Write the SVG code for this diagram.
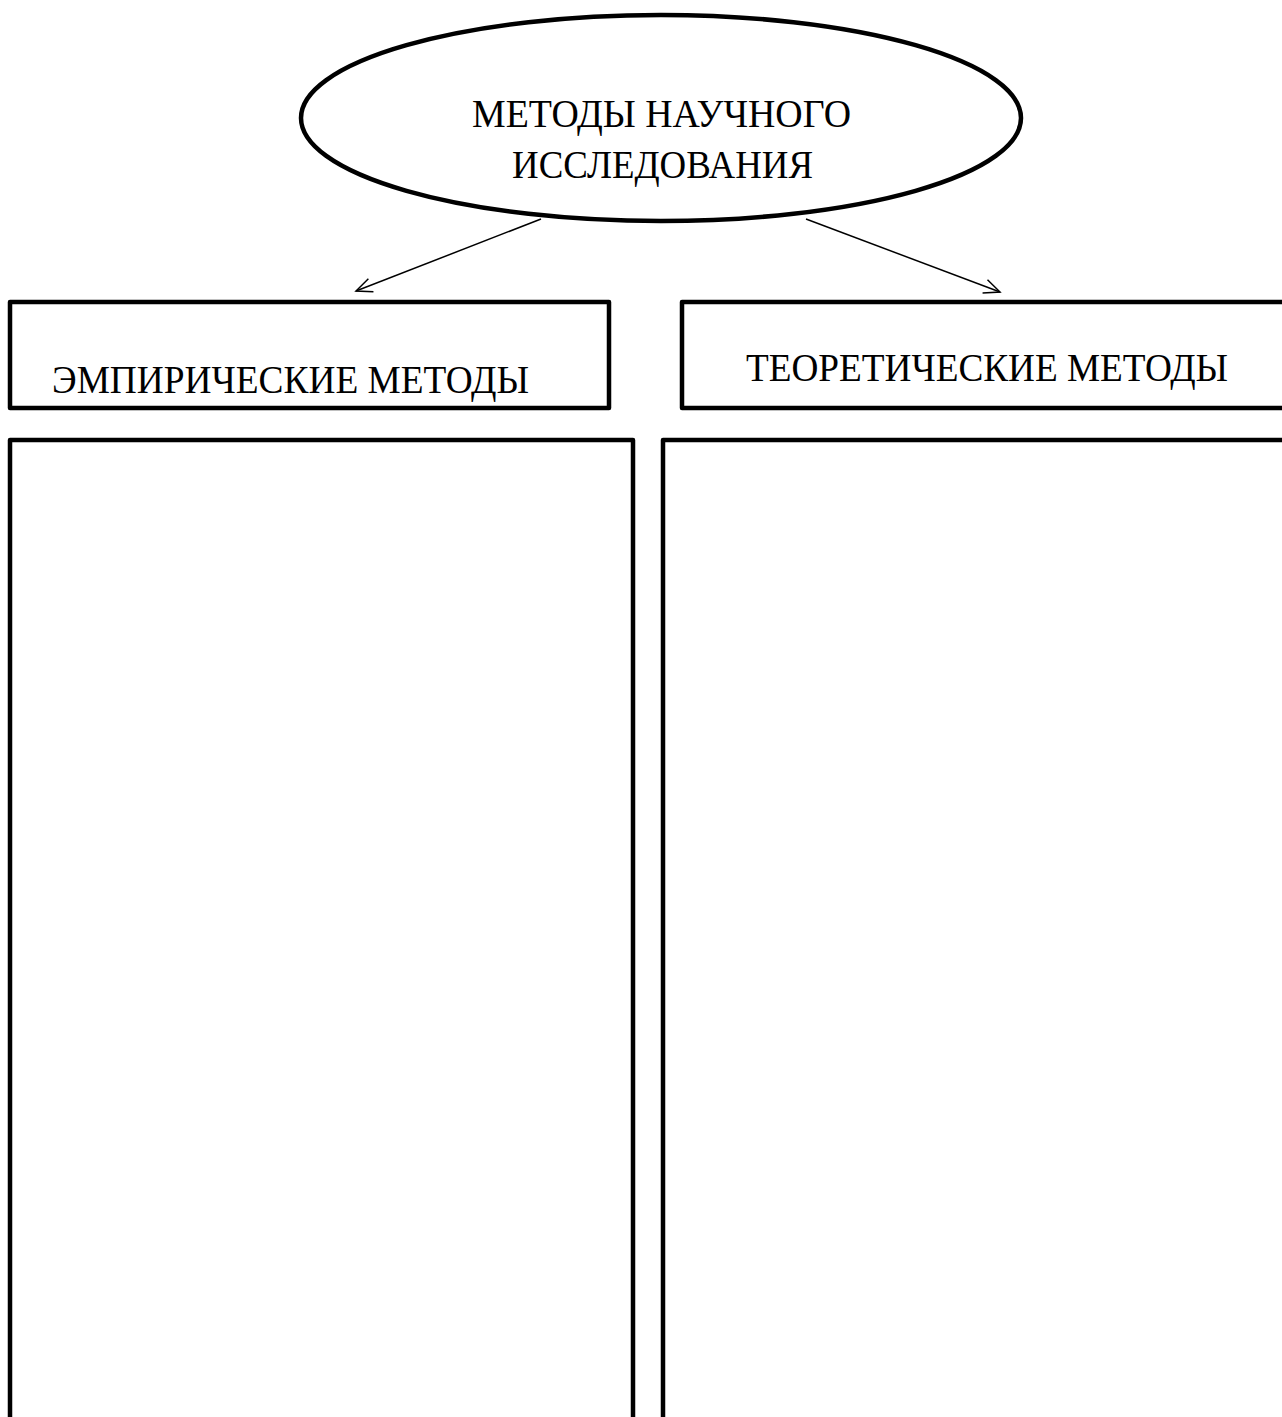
<svg xmlns="http://www.w3.org/2000/svg" width="1282" height="1417" viewBox="0 0 1282 1417">
<defs>
<style>
.box{fill:none;stroke:#000;stroke-width:4.5;stroke-linejoin:round}
.t{font-family:"Liberation Serif","Times New Roman",serif;font-size:39px;fill:#000}
.c{fill:none;stroke:#000;stroke-width:1.5}
</style>
<marker id="ah" markerWidth="20" markerHeight="20" refX="18" refY="10" orient="auto" markerUnits="userSpaceOnUse">
<path d="M2,3 L18,10 L2,17" fill="none" stroke="#000" stroke-width="1.5"/>
</marker>
</defs>
<rect width="1282" height="1417" fill="#fff"/>
<g id="connectors">
<line class="c" x1="541" y1="219" x2="356" y2="291" marker-end="url(#ah)"/>
<line class="c" x1="806" y1="219" x2="1000" y2="292" marker-end="url(#ah)"/>
</g>
<g id="root">
<ellipse class="box" cx="661" cy="118" rx="360" ry="103" stroke-width="5"/>
<text class="t" x="472" y="127" textLength="379" lengthAdjust="spacingAndGlyphs">МЕТОДЫ НАУЧНОГО</text>
<text class="t" x="512" y="178" textLength="301" lengthAdjust="spacingAndGlyphs">ИССЛЕДОВАНИЯ</text>
</g>
<g id="empirical">
<rect class="box" x="10" y="302" width="599" height="106"/>
<text class="t" x="52" y="393" textLength="477" lengthAdjust="spacingAndGlyphs">ЭМПИРИЧЕСКИЕ МЕТОДЫ</text>
</g>
<g id="theoretical">
<rect class="box" x="682" y="302" width="610" height="106"/>
<text class="t" x="746" y="381" textLength="482" lengthAdjust="spacingAndGlyphs">ТЕОРЕТИЧЕСКИЕ МЕТОДЫ</text>
</g>
<g id="empirical-list">
<rect class="box" x="10" y="440" width="623" height="1000"/>
</g>
<g id="theoretical-list">
<rect class="box" x="663" y="440" width="640" height="1000"/>
</g>
</svg>
